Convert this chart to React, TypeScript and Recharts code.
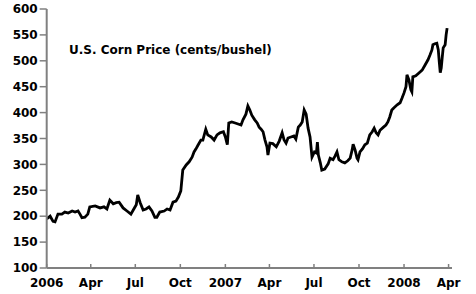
import { LineChart, Line, XAxis, YAxis } from 'recharts'

// days since 2006-01-01
const days = [
  0, 7, 13, 17, 23, 31, 37, 44, 52, 58, 64, 68, 72, 78, 84, 88, 99, 109, 117, 123,
  129, 136, 142, 148, 156, 164, 172, 178, 183, 186, 191, 197, 203, 209, 215, 221, 225, 231, 240, 246,
  252, 258, 264, 269, 274, 278, 285, 291, 297, 301, 305, 309, 315, 319, 325, 329, 336, 342, 348, 354,
  361, 365, 369, 372, 378, 385, 391, 397, 401, 407, 411, 415, 419, 425, 430, 434, 438, 442, 446, 450,
  452, 456, 462, 469, 475, 481, 485, 489, 493, 499, 505, 509, 514, 518, 522, 526, 530, 534, 538, 542,
  547, 551, 553, 555, 559, 562, 568, 575, 579, 585, 589, 593, 597, 603, 609, 615, 620, 624, 626, 630,
  634, 636, 640, 645, 650, 655, 660, 665, 669, 673, 677, 681, 688, 693, 697, 701, 705, 709, 716, 722,
  726, 730, 734, 736, 740, 744, 746, 748, 754, 761, 767, 773, 779, 783, 787, 789, 793, 797, 800, 802,
  804, 806, 808, 810, 814, 816, 818,
]

const price = [
  195, 200, 190, 189, 204, 204, 208, 206, 210, 208, 210, 204, 197, 198, 204, 218, 220, 216, 218, 214,
  231, 224, 226, 227, 216, 210, 204, 214, 222, 241, 226, 212, 214, 218, 210, 198, 198, 208, 210, 214,
  212, 227, 229, 237, 249, 289, 299, 305, 314, 324, 330, 337, 347, 347, 368, 357, 353, 347, 357, 361,
  363, 353, 338, 380, 382, 380, 378, 376, 386, 397, 413, 405, 395, 386, 380, 372, 368, 363, 347, 334,
  318, 341, 340, 334, 345, 361, 347, 341, 351, 353, 355, 349, 372, 376, 382, 405, 397, 370, 353, 314,
  324, 322, 343, 318, 303, 289, 291, 301, 312, 309, 316, 324, 309, 305, 303, 307, 312, 328, 339, 328,
  312, 309, 324, 330, 338, 341, 357, 363, 370, 361, 357, 366, 372, 376, 382, 392, 405, 409, 415, 419,
  428, 438, 450, 473, 463, 444, 440, 469, 471, 477, 482, 492, 502, 511, 521, 531, 533, 534, 521, 498,
  477, 486, 506, 525, 531, 550, 563,
]

const tickDays = [0, 90, 181, 273, 365, 455, 546, 638, 730, 821]
const tickLabels = ['2006', 'Apr', 'Jul', 'Oct', '2007', 'Apr', 'Jul', 'Oct', '2008', 'Apr']
const yTicks = [100, 150, 200, 250, 300, 350, 400, 450, 500, 550, 600]

const data = days.map((d, i) => ({ day: d, price: price[i] }))

const font = '"DejaVu Sans", Verdana, sans-serif'

function DateTick({ x, y, payload }: any) {
  const idx = tickDays.indexOf(payload.value)
  return (
    <g>
      <line x1={x} y1={y} x2={x} y2={y - 4} stroke="#808080" strokeWidth={1.5} />
      <text x={x} y={y + 19} textAnchor="middle" fontFamily={font} fontWeight="bold" fontSize={12} fill="#000">
        {tickLabels[idx]}
      </text>
    </g>
  )
}

export default function App() {
  return (
    <div style={{ position: 'absolute', left: 0, top: 0, width: 476, height: 294, background: '#fff' }}>
      <LineChart width={476} height={294} data={data} margin={{ top: 9, right: 24, bottom: 0, left: 0 }}>
        <XAxis
          dataKey="day"
          type="number"
          domain={[0, 828]}
          ticks={tickDays}
          interval={0}
          tickLine={false}
          tickSize={0}
          tickMargin={0}
          height={26}
          axisLine={{ stroke: '#808080', strokeWidth: 2 }}
          tick={<DateTick />}
        />
        <XAxis
          xAxisId="top"
          orientation="top"
          dataKey="day"
          type="number"
          domain={[0, 828]}
          height={0}
          tick={false}
          tickLine={false}
          axisLine={{ stroke: '#a0a0a0', strokeWidth: 1.5 }}
        />
        <YAxis
          domain={[100, 600]}
          ticks={yTicks}
          interval={0}
          width={46.7}
          tickSize={7}
          tickMargin={2}
          tickLine={{ stroke: '#808080', strokeWidth: 1.5 }}
          axisLine={{ stroke: '#808080', strokeWidth: 2 }}
          tick={{ fill: '#000', fontSize: 12, fontWeight: 'bold', fontFamily: font }}
        />
        <YAxis
          yAxisId="right"
          orientation="right"
          domain={[100, 600]}
          width={0}
          tick={false}
          tickLine={false}
          axisLine={{ stroke: '#a0a0a0', strokeWidth: 1.5 }}
        />
        <Line
          dataKey="price"
          type="linear"
          stroke="#000"
          strokeWidth={2.8}
          dot={false}
          isAnimationActive={false}
        />
      </LineChart>
      <div
        style={{
          position: 'absolute',
          left: 69,
          top: 43,
          fontFamily: font,
          fontWeight: 'bold',
          fontSize: 12,
          color: '#000',
          whiteSpace: 'nowrap',
        }}
      >
        U.S. Corn Price (cents/bushel)
      </div>
    </div>
  )
}
